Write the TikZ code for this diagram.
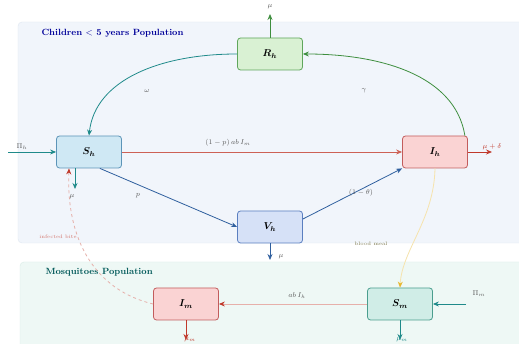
\documentclass[tikz,border=0pt]{standalone}
\usepackage{amsmath}
\usetikzlibrary{arrows.meta}
\definecolor{panelh}{HTML}{F1F5FB}
\definecolor{panelhd}{HTML}{DFE7F1}
\definecolor{panelm}{HTML}{EEF8F5}
\definecolor{panelmd}{HTML}{D9EDE8}
\definecolor{shfill}{HTML}{CFE8F4}
\definecolor{shdraw}{HTML}{5C94B8}
\definecolor{rhfill}{HTML}{D9F1D3}
\definecolor{rhdraw}{HTML}{5FA65B}
\definecolor{ihfill}{HTML}{FAD3D3}
\definecolor{ihdraw}{HTML}{C25C5C}
\definecolor{vhfill}{HTML}{D6E1F7}
\definecolor{vhdraw}{HTML}{5B7FC0}
\definecolor{smfill}{HTML}{D0EDE7}
\definecolor{smdraw}{HTML}{4A9E8E}
\definecolor{flowred}{HTML}{C0392B}
\definecolor{flowblue}{HTML}{2F5F9E}
\definecolor{flowteal}{HTML}{1F8A8A}
\definecolor{flowgreen}{HTML}{3E8E3E}
\definecolor{flowyellow}{HTML}{E8B830}
\begin{document}
\begin{tikzpicture}[x=1pt, y=-1pt,
    comp/.style={rectangle, draw, thick, rounded corners=3pt,
                 minimum width=65pt, minimum height=32pt, inner sep=2pt, font=\boldmath},
    flow/.style={-{Stealth[length=6pt, width=5pt]}, thick},
    faint/.style={-{Stealth[length=6pt, width=5pt, color=#1]}, thick, draw=#1!40},
    lbl/.style={font=\scriptsize, text=gray!70!black},
    ttl/.style={font=\small\bfseries, anchor=west},
  ]
  \clip (0,0) rectangle (519,344);
  \fill[white] (0,0) rectangle (519,344);

  % Panels
  \draw[rounded corners=4pt, draw=panelhd, fill=panelh] (18,22) rectangle (530,243);
  \draw[rounded corners=4pt, draw=panelmd, fill=panelm] (20,262) rectangle (530,352);
  \node[ttl, text=blue!60!black] (ttlh) at (38,33) {Children $<$ 5 years Population};
  \node[ttl, text=teal!70!black] (ttlm) at (42,272) {Mosquitoes Population};

  % Human compartments
  \node[comp, fill=shfill, draw=shdraw] (sh) at (89,152) {$S_h$};
  \node[comp, fill=rhfill, draw=rhdraw] (rh) at (270,54) {$R_h$};
  \node[comp, fill=ihfill, draw=ihdraw] (ih) at (435,152) {$I_h$};
  \node[comp, fill=vhfill, draw=vhdraw] (vh) at (270,227) {$V_h$};

  % Mosquito compartments
  \node[comp, fill=ihfill, draw=ihdraw] (im) at (186,304) {$I_m$};
  \node[comp, fill=smfill, draw=smdraw] (sm) at (400,304) {$S_m$};

  % Free ends and side anchors
  \coordinate (pih) at (8,152);
  \coordinate (pim) at (466,304);
  \coordinate (rhout) at (270,14);
  \coordinate (ihout) at (492,152);
  \coordinate (vhout) at (270,260);
  \coordinate (shout) at (75,189);
  \coordinate (imout) at (186,340);
  \coordinate (smout) at (400,340);
  \coordinate (shse) at ([xshift=-22pt]sh.south east);
  \coordinate (vhe) at ([yshift=8pt]vh.east);
  \coordinate (ihne) at ([xshift=-3pt]ih.north east);
  \coordinate (shs) at ([xshift=-14pt]sh.south);
  \coordinate (shi) at ([xshift=-20pt]sh.south);

  % Human flows
  \draw[flow, flowteal] (pih) -- (sh);
  \draw[flow, flowred!80] (sh) -- (ih);
  \draw[flow, flowblue] (shse) -- (vh.west);
  \draw[flow, flowblue] (vhe) -- (ih.south west);
  \draw[flow, flowteal] (rh.west) .. controls (160,54) and (95,80) .. (sh.north);
  \draw[flow, flowgreen] (ihne) .. controls (455,75) and (380,54) .. (rh.east);

  % Removals
  \draw[flow, flowgreen] (rh) -- (rhout);
  \draw[flow, flowred] (ih) -- (ihout);
  \draw[flow, flowblue] (vh) -- (vhout);
  \draw[flow, flowteal] (shs) -- (shout);

  % Mosquito flows
  \draw[faint=flowred] (sm) -- (im);
  \draw[flow, flowteal] (pim) -- (sm);
  \draw[flow, flowteal] (sm) -- (smout);
  \draw[flow, flowred] (im) -- (imout);

  % Transmission between populations
  \draw[faint=flowred, dashed] (im.west)
    .. controls (95,290) and (66,240) .. (shi);
  \draw[faint=flowyellow] (ih.south)
    .. controls (434,220) and (402,250) .. (sm.north);

  % Rates
  \node[lbl] (lpih) at (22,147) {$\Pi_h$};
  \node[lbl] (lpim) at (479,294) {$\Pi_m$};
  \node[lbl] (lforce) at (228,143) {$(1-p)\,ab\,I_m$};
  \node[lbl] (lp) at (138,196) {$p$};
  \node[lbl] (lvac) at (361,193) {$(1-\theta)$};
  \node[lbl] (lomega) at (147,91) {$\omega$};
  \node[lbl] (lgamma) at (364,91) {$\gamma$};
  \node[lbl] (lmur) at (270,7) {$\mu$};
  \node[lbl, text=flowred] (lmui) at (492,147) {$\mu+\delta$};
  \node[lbl] (lmuv) at (281,257) {$\mu$};
  \node[lbl] (lmus) at (72,197) {$\mu$};
  \node[lbl] (lsm) at (297,296) {$ab\,I_h$};
  \node[lbl, text=flowred] (lmuim) at (190,340) {$\mu_m$};
  \node[lbl, text=flowteal] (lmusm) at (402,340) {$\mu_m$};
  \node[lbl, font=\tiny, text=flowred!70] (linf) at (58,237) {infected bite};
  \node[lbl, font=\tiny, text=yellow!40!black] (lbite) at (371,244) {blood meal};

  \end{tikzpicture}
\end{document}
